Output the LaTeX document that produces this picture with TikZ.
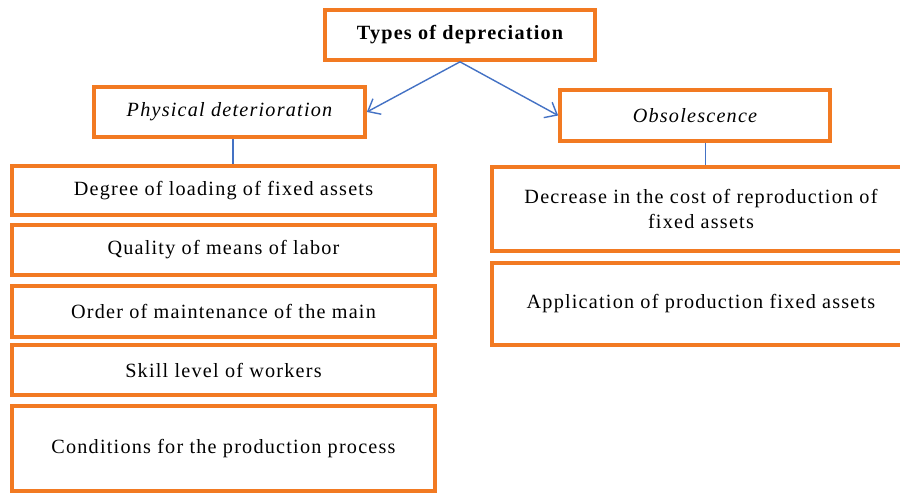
\documentclass[tikz,border=0pt]{standalone}
\usepackage{fontspec}
\setmainfont{Liberation Serif}[LetterSpace=6]
\usetikzlibrary{arrows.meta}
\definecolor{boxorange}{RGB}{242,122,34}
\definecolor{linkblue}{RGB}{68,114,196}

\begin{document}
\begin{tikzpicture}[>={Straight Barb[length=6pt,width=10pt]},
    box/.style={draw=boxorange, line width=2.1pt, fill=white, align=center,
      font=\fontsize{11.5}{14.5}\selectfont, inner sep=2pt},
    link/.style={draw=linkblue, line width=0.8pt}]

  \clip (0,0) rectangle (18,9.86);

  % Root and the two kinds of depreciation.
  \node[box, minimum width=5.4cm, minimum height=1.0cm, font=\fontsize{11.5}{14.5}\selectfont\bfseries]
    (types) at (9.2,9.16) {Types of depreciation};
  \node[box, minimum width=5.42cm, minimum height=1.0cm, font=\fontsize{11.5}{14.5}\selectfont\itshape]
    (phys) at (4.59,7.62) {Physical deterioration};
  \node[box, minimum width=5.4cm, minimum height=1.02cm, font=\fontsize{11.5}{14.5}\selectfont\itshape]
    (obs) at (13.9,7.55) {Obsolescence};

  % Factors of physical deterioration.
  \node[box, minimum width=8.46cm, minimum height=0.98cm] (degree) at (4.47,6.05)
    {Degree of loading of fixed assets};
  \node[box, minimum width=8.46cm, minimum height=1.0cm] (quality) at (4.47,4.86)
    {Quality of means of labor};
  \node[box, minimum width=8.46cm, minimum height=1.02cm] (order) at (4.47,3.63)
    {Order of maintenance of the main};
  \node[box, minimum width=8.46cm, minimum height=1.0cm] (skill) at (4.47,2.46)
    {Skill level of workers};
  \node[box, minimum width=8.46cm, minimum height=1.7cm] (cond) at (4.47,0.89)
    {Conditions for the production process};

  % Factors of obsolescence.
  \node[box, minimum width=8.36cm, minimum height=1.68cm] (decrease) at (14.02,5.68)
    {Decrease in the cost of reproduction of\\fixed assets};
  \node[box, minimum width=8.36cm, minimum height=1.64cm] (appl) at (14.02,3.78)
    {Application of production fixed assets};

  % Connectors.
  \draw[link, ->] (types.south) -- (phys.east);
  \draw[link, ->] (types.south) -- (obs.west);
  \draw[link] ([xshift=2pt]phys.south) -- ([xshift=2pt]phys.south |- degree.north);
  \draw[link] ([xshift=6pt]obs.south) -- ([xshift=6pt]obs.south |- decrease.north);

\end{tikzpicture}
\end{document}
